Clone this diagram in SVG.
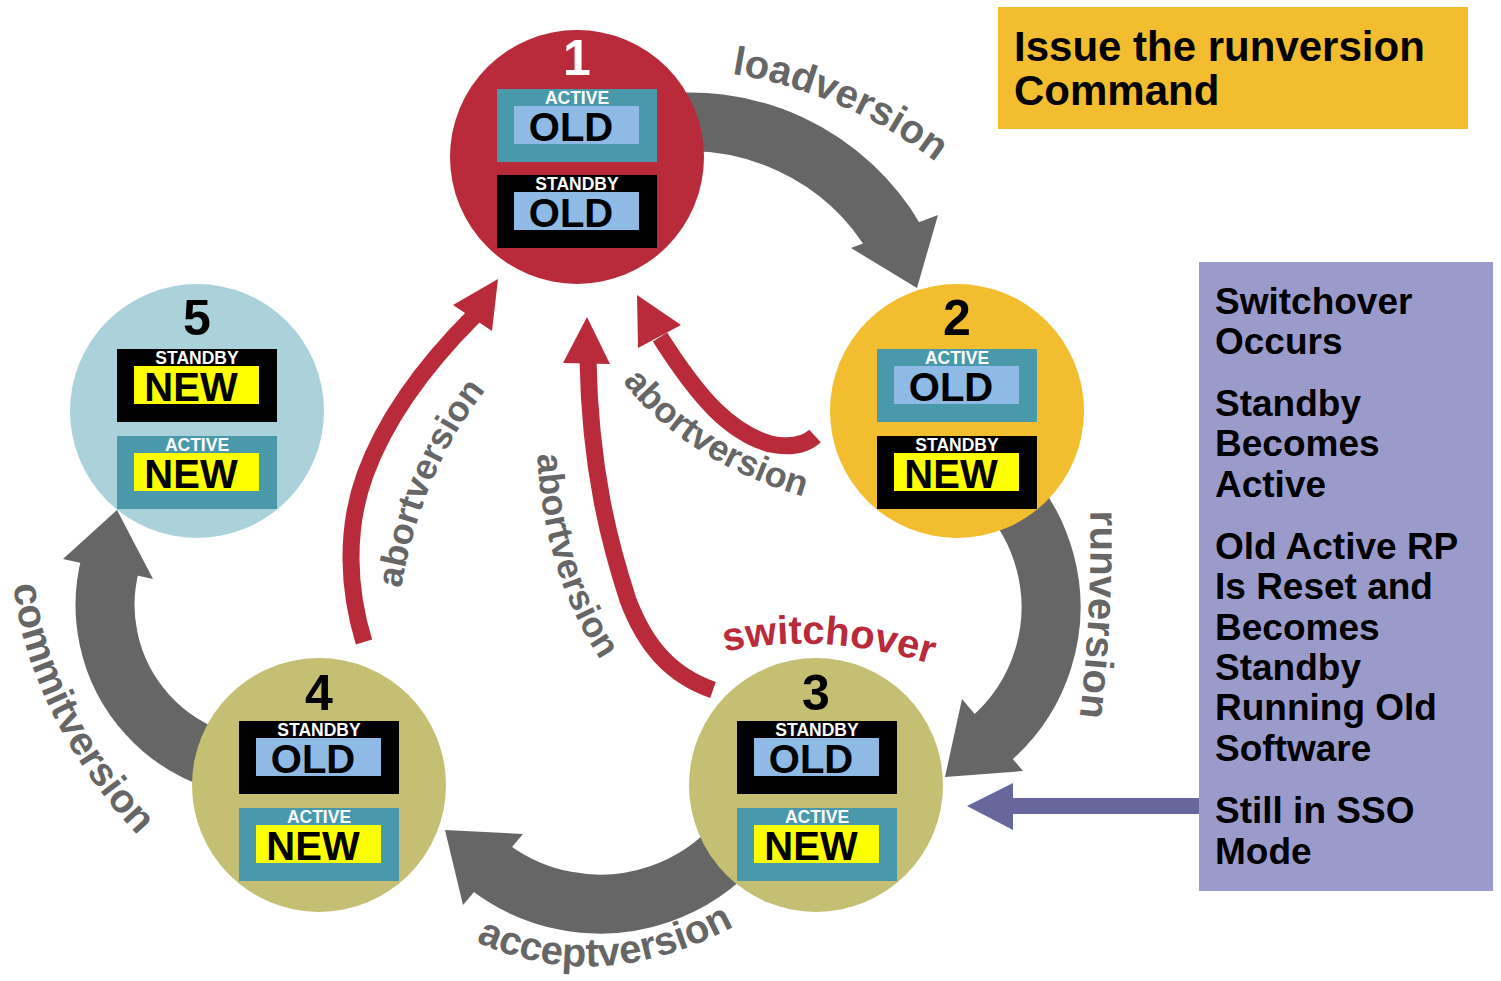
<svg xmlns="http://www.w3.org/2000/svg" width="1501" height="981" viewBox="0 0 1501 981">
<style>
text{font-family:"Liberation Sans",Arial,sans-serif;font-weight:bold}
.tag{font-size:17.5px;fill:#fff;text-anchor:middle}
.big{font-size:40px;fill:#000;text-anchor:middle}
.num{font-size:50px;text-anchor:middle}
.teal{fill:#4A99AB}.blk{fill:#000}.lb{fill:#8EBAE5}.yl{fill:#FFFF00}
.gshaft{fill:none;stroke:#666;stroke-width:59}
.ghead{fill:#666}
.rshaft{fill:none;stroke:#B92B3B;stroke-width:17}
.rhead{fill:#B92B3B}
.glab{font-size:40px;fill:#666;text-anchor:middle}
.alab{font-size:36px;fill:#666;text-anchor:middle}
.side{font-size:37px;fill:#000}
.cmd{font-size:42px;fill:#000}
</style>
<defs>
<path id="pLoad" d="M686.8,68.8 A452,452 0 0 1 970.4,191.4"/>
<path id="pRun" d="M1090,498 Q1093,614 1078,730"/>
<path id="pAccept" d="M468,938 Q600,1002 742,922"/>
<path id="pCommit" d="M12,565 C15,650 60,760 152,850"/>
<path id="pSwitch" d="M716,654 Q820,628 940,667"/>
<path id="pAbA" d="M400,595 Q420,470 490,385"/>
<path id="pAbB" d="M537,435 C537,510 555,600 612,676"/>
<path id="pAbC" d="M620,378 Q683,462 808,498"/>
</defs>

<g id="connectors">
<path class="gshaft" d="M648.7,125.6 A238,238 0 0 1 896.1,241.0"/>
<path class="gshaft" d="M906.4,434.7 A175,175 0 0 1 988.5,741.1"/>
<path class="gshaft" d="M776.8,768.4 A183,183 0 0 1 489.9,867.2"/>
<path class="gshaft" d="M296.3,765.5 A163,163 0 0 1 110.6,562.8"/>
<path class="rshaft" d="M364,642 C348,590 345,530 365,475 C385,420 425,365 474,316"/>
<path class="rshaft" d="M713,690 C670,675 645,645 628,600 C610,545 590,470 588,360"/>
<path class="rshaft" d="M815,436 Q800,450 770,444 C730,432 700,400 660,337"/>
<rect x="1010" y="798" width="190" height="16" fill="#67679C"/>
<polygon points="967,806 1013,783 1013,830" fill="#67679C"/>
</g>

<g id="node1">
<circle cx="577" cy="157" r="127" fill="#B92B3B"/>
<text class="num" x="577" y="75" fill="#fff">1</text>
<rect class="teal" x="497" y="89" width="160" height="73"/>
<text class="tag" x="577" y="104">ACTIVE</text>
<rect class="lb" x="514" y="106" width="125" height="38"/>
<text class="big" x="571" y="141">OLD</text>
<rect class="blk" x="497" y="175" width="160" height="73"/>
<text class="tag" x="577" y="190">STANDBY</text>
<rect class="lb" x="514" y="192" width="125" height="38"/>
<text class="big" x="571" y="227">OLD</text>
</g>

<g id="node2">
<circle cx="957" cy="411" r="127" fill="#F2BD2E"/>
<text class="num" x="957" y="335" fill="#000">2</text>
<rect class="teal" x="877" y="349" width="160" height="73"/>
<text class="tag" x="957" y="364">ACTIVE</text>
<rect class="lb" x="894" y="366" width="125" height="38"/>
<text class="big" x="951" y="401">OLD</text>
<rect class="blk" x="877" y="436" width="160" height="73"/>
<text class="tag" x="957" y="451">STANDBY</text>
<rect class="yl" x="894" y="453" width="125" height="38"/>
<text class="big" x="951" y="488">NEW</text>
</g>

<g id="node5">
<circle cx="197" cy="411" r="127" fill="#ABD2DA"/>
<text class="num" x="197" y="335" fill="#000">5</text>
<rect class="blk" x="117" y="349" width="160" height="73"/>
<text class="tag" x="197" y="364">STANDBY</text>
<rect class="yl" x="134" y="366" width="125" height="38"/>
<text class="big" x="191" y="401">NEW</text>
<rect class="teal" x="117" y="436" width="160" height="73"/>
<text class="tag" x="197" y="451">ACTIVE</text>
<rect class="yl" x="134" y="453" width="125" height="38"/>
<text class="big" x="191" y="488">NEW</text>
</g>

<g id="node3">
<circle cx="816" cy="785" r="127" fill="#C4BF72"/>
<text class="num" x="816" y="710" fill="#000">3</text>
<rect class="blk" x="737" y="721" width="160" height="73"/>
<text class="tag" x="817" y="736">STANDBY</text>
<rect class="lb" x="754" y="738" width="125" height="38"/>
<text class="big" x="811" y="773">OLD</text>
<rect class="teal" x="737" y="808" width="160" height="73"/>
<text class="tag" x="817" y="823">ACTIVE</text>
<rect class="yl" x="754" y="825" width="125" height="38"/>
<text class="big" x="811" y="860">NEW</text>
</g>

<g id="node4">
<circle cx="319" cy="785" r="127" fill="#C4BF72"/>
<text class="num" x="319" y="710" fill="#000">4</text>
<rect class="blk" x="239" y="721" width="160" height="73"/>
<text class="tag" x="319" y="736">STANDBY</text>
<rect class="lb" x="256" y="738" width="125" height="38"/>
<text class="big" x="313" y="773">OLD</text>
<rect class="teal" x="239" y="808" width="160" height="73"/>
<text class="tag" x="319" y="823">ACTIVE</text>
<rect class="yl" x="256" y="825" width="125" height="38"/>
<text class="big" x="313" y="860">NEW</text>
</g>

<g id="arrowheads">
<polygon class="ghead" points="917,288 851,248 938,215"/>
<polygon class="ghead" points="945,777 962,699 1023,771"/>
<polygon class="ghead" points="445,830 463,905 523,834"/>
<polygon class="ghead" points="117,510 63,559 153,579"/>
<polygon class="rhead" points="498,279 453,305 492,331"/>
<polygon class="rhead" points="587,317 563,363 610,364"/>
<polygon class="rhead" points="637,295 638,348 681,325"/>
</g>

<g id="labels">
<text class="glab"><textPath href="#pLoad" startOffset="50%">loadversion</textPath></text>
<text class="glab"><textPath href="#pRun" startOffset="50%">runversion</textPath></text>
<text class="glab"><textPath href="#pAccept" startOffset="50%">acceptversion</textPath></text>
<text class="glab"><textPath href="#pCommit" startOffset="50%">commitversion</textPath></text>
<text class="glab" style="fill:#B92B3B"><textPath href="#pSwitch" startOffset="50%">switchover</textPath></text>
<text class="alab"><textPath href="#pAbA" startOffset="50%">abortversion</textPath></text>
<text class="alab"><textPath href="#pAbB" startOffset="50%">abortversion</textPath></text>
<text class="alab"><textPath href="#pAbC" startOffset="50%">abortversion</textPath></text>
</g>

<g id="command-box">
<rect x="998" y="7" width="470" height="122" fill="#F2BD2E"/>
<text class="cmd" x="1014" y="61">Issue the runversion</text>
<text class="cmd" x="1014" y="105">Command</text>
</g>

<g id="info-panel">
<rect x="1199" y="262" width="294" height="629" fill="#9B9BCB"/>
<text class="side" x="1215" y="314">Switchover</text>
<text class="side" x="1215" y="354">Occurs</text>
<text class="side" x="1215" y="416">Standby</text>
<text class="side" x="1215" y="456">Becomes</text>
<text class="side" x="1215" y="497">Active</text>
<text class="side" x="1215" y="559">Old Active RP</text>
<text class="side" x="1215" y="599">Is Reset and</text>
<text class="side" x="1215" y="640">Becomes</text>
<text class="side" x="1215" y="680">Standby</text>
<text class="side" x="1215" y="720">Running Old</text>
<text class="side" x="1215" y="761">Software</text>
<text class="side" x="1215" y="823">Still in SSO</text>
<text class="side" x="1215" y="864">Mode</text>
</g>
</svg>
